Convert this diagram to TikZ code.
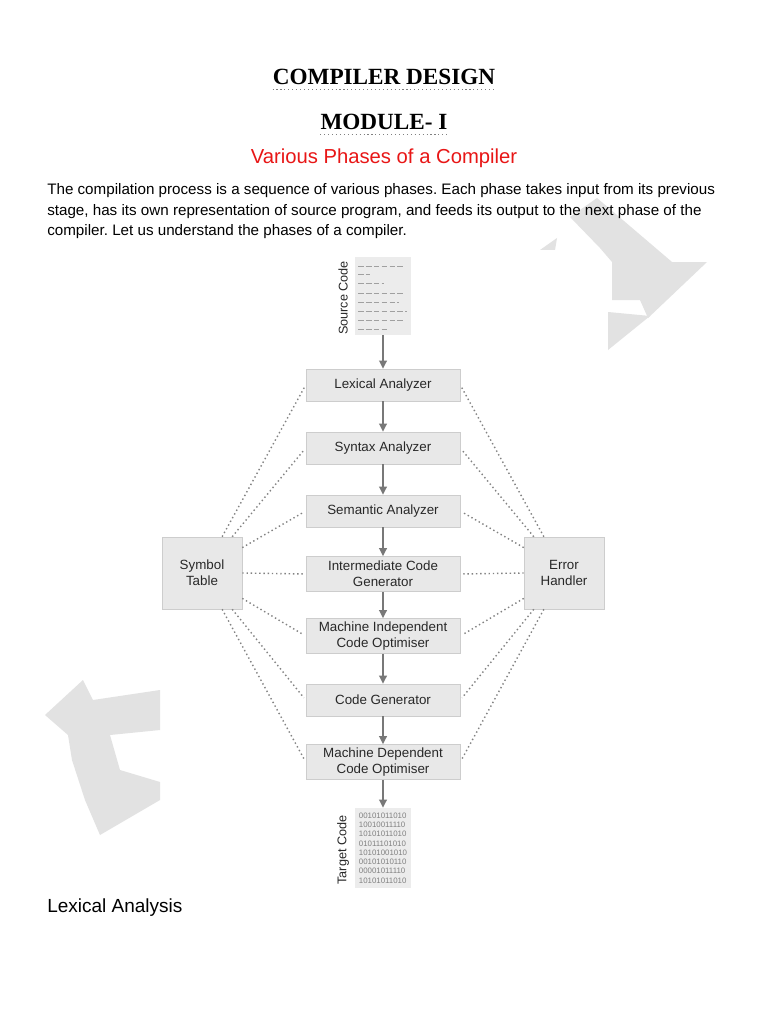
\documentclass[tikz,border=0pt]{standalone}
\usepackage{fontspec}
\setmainfont{Liberation Sans}
\newfontfamily\titlefont{Liberation Serif}
\usetikzlibrary{arrows.meta,calc}
\frenchspacing
\definecolor{phasefill}{RGB}{232,232,232}
\definecolor{phaseline}{RGB}{205,205,205}
\definecolor{phasetext}{RGB}{40,40,40}
\definecolor{flowgray}{RGB}{120,120,120}
\definecolor{dotgray}{RGB}{130,130,130}
\definecolor{dashgray}{RGB}{160,160,160}
\definecolor{headred}{RGB}{232,22,22}
\definecolor{markgray}{RGB}{226,226,226}
\definecolor{docfill}{RGB}{236,236,236}

\begin{document}
\begin{tikzpicture}[x=0.025cm, y=-0.025cm, every node/.style={inner sep=0pt},
	phase/.style={draw=phaseline, fill=phasefill, text=phasetext, minimum width=3.85cm, minimum height=0.8cm, align=center, font=\fontsize{9.5}{11.4}\selectfont},
	sidebox/.style={phase, minimum width=2cm, minimum height=1.8cm},
	docpage/.style={fill=docfill, minimum width=1.4cm, minimum height=1.95cm},
	doclabel/.style={rotate=90, text=phasetext, font=\fontsize{9}{10}\selectfont},
	flow/.style={-{Triangle[length=2mm,width=1.9mm]}, flowgray, line width=1.1pt},
	link/.style={dotted, dotgray, line width=1pt, shorten >=2pt}]
	
	% --- Page ---
	\fill[white] (0,0) rectangle (768,1024);
	\useasboundingbox (0,0) rectangle (768,1024);
	
	% --- Watermark fragments ---
	\fill[markgray] (570,217) -- (597,198) -- (672,262) -- (707,262) -- (648,318) -- (640,300) -- (612,300) -- (612,262) -- (600,248) -- cycle;
	\fill[markgray] (608,312) -- (650,316) -- (608,350) -- cycle;
	\fill[markgray] (540,250) -- (557,238) -- (555,250) -- cycle;
	\fill[markgray] (45,715) -- (83,680) -- (93,700) -- (160,690) -- (160,730) -- (110,735) -- (120,770) -- (160,782) -- (160,800) -- (100,835) -- (85,800) -- (72,760) -- (68,735) -- cycle;
	
	% --- Headings ---
	\node[font=\titlefont\bfseries\fontsize{16.5}{20}\selectfont] (title) at (384,77) {COMPILER DESIGN};
	\draw[dotted, gray, thick] (title.south west) ++(0,4) -- ($(title.south east)+(0,4)$);
	\node[font=\titlefont\bfseries\fontsize{16.5}{20}\selectfont] (module) at (384,122) {MODULE- I};
	\draw[dotted, gray, thick] (module.south west) ++(0,4) -- ($(module.south east)+(0,4)$);
	\node[text=headred, font=\fontsize{14.4}{16}\selectfont] (subtitle) at (384,158) {Various Phases of a Compiler};
	
	% --- Intro text ---
	\node[anchor=base west, font=\fontsize{10.8}{14}\selectfont] (line1) at (47,195) {The compilation process is a sequence of various phases. Each phase takes input from its previous};
	\node[anchor=base west, font=\fontsize{10.8}{14}\selectfont] (line2) at (47,216) {stage, has its own representation of source program, and feeds its output to the next phase of the};
	\node[anchor=base west, font=\fontsize{10.8}{14}\selectfont] (line3) at (47,236) {compiler. Let us understand the phases of a compiler.};
	
	% --- Source code page ---
	\node[docpage] (src) at (383,296) {};
	\foreach \yy/\len in {266/45, 274/12, 283/26, 293/46, 302/41, 311/49, 320/45, 329/30}
		\draw[dashgray, line width=0.6pt, dash pattern=on 4pt off 1.6pt] (358,\yy) -- +(\len,0);
	\node[doclabel] (srclabel) at (343,298) {Source Code};
	
	% --- Phases ---
	\node[phase] (lex) at (383,385) {Lexical Analyzer};
	\node[phase] (syn) at (383,448) {Syntax Analyzer};
	\node[phase] (sem) at (383,511) {Semantic Analyzer};
	\node[phase, minimum height=0.875cm] (icg) at (383,574) {Intermediate Code\\Generator};
	\node[phase, minimum height=0.875cm] (mio) at (383,636) {Machine Independent\\Code Optimiser};
	\node[phase] (cg) at (383,700) {Code Generator};
	\node[phase, minimum height=0.875cm] (mdo) at (383,762) {Machine Dependent\\Code Optimiser};
	
	% --- Target code page ---
	\node[docpage, minimum height=2cm, align=left, text=gray, font=\fontsize{5.6}{6.6}\selectfont] (tgt) at (383,848)
	{00101011010\\10010011110\\10101011010\\01011101010\\10101001010\\00101010110\\00001011110\\10101011010};
	\node[doclabel] (tgtlabel) at (343,850) {Target Code};
	
	% --- Side boxes ---
	\node[sidebox] (sym) at (202,573) {Symbol\\Table};
	\node[sidebox] (err) at (564,573) {Error\\Handler};
	
	% --- Main flow ---
	\draw[flow] (src) -- (lex);
	\foreach \a/\b in {lex/syn, syn/sem, sem/icg, icg/mio, mio/cg, cg/mdo, mdo/tgt}
		\draw[flow] (\a) -- (\b);
	
	% --- Dotted links to the tables ---
	\coordinate (s1) at ($(sym.north)!0.5!(sym.north east)$);
	\coordinate (s2) at ($(sym.north)!0.75!(sym.north east)$);
	\coordinate (s3) at ($(sym.north east)!0.15!(sym.south east)$);
	\coordinate (s4) at (sym.east);
	\coordinate (s5) at ($(sym.north east)!0.85!(sym.south east)$);
	\coordinate (s6) at ($(sym.south)!0.75!(sym.south east)$);
	\coordinate (s7) at ($(sym.south)!0.5!(sym.south east)$);
	\coordinate (e1) at ($(err.north)!0.5!(err.north west)$);
	\coordinate (e2) at ($(err.north)!0.75!(err.north west)$);
	\coordinate (e3) at ($(err.north west)!0.15!(err.south west)$);
	\coordinate (e4) at (err.west);
	\coordinate (e5) at ($(err.north west)!0.85!(err.south west)$);
	\coordinate (e6) at ($(err.south)!0.75!(err.south west)$);
	\coordinate (e7) at ($(err.south)!0.5!(err.south west)$);
	\foreach \ph [count=\i] in {lex, syn, sem, icg, mio, cg, mdo} {
		\draw[link] (s\i) -- (\ph.west);
		\draw[link] (e\i) -- (\ph.east);
	}
	
	% --- Next section ---
	\node[anchor=base west, font=\fontsize{13.5}{15}\selectfont] (next) at (47,912) {Lexical Analysis};
\end{tikzpicture}
\end{document}
